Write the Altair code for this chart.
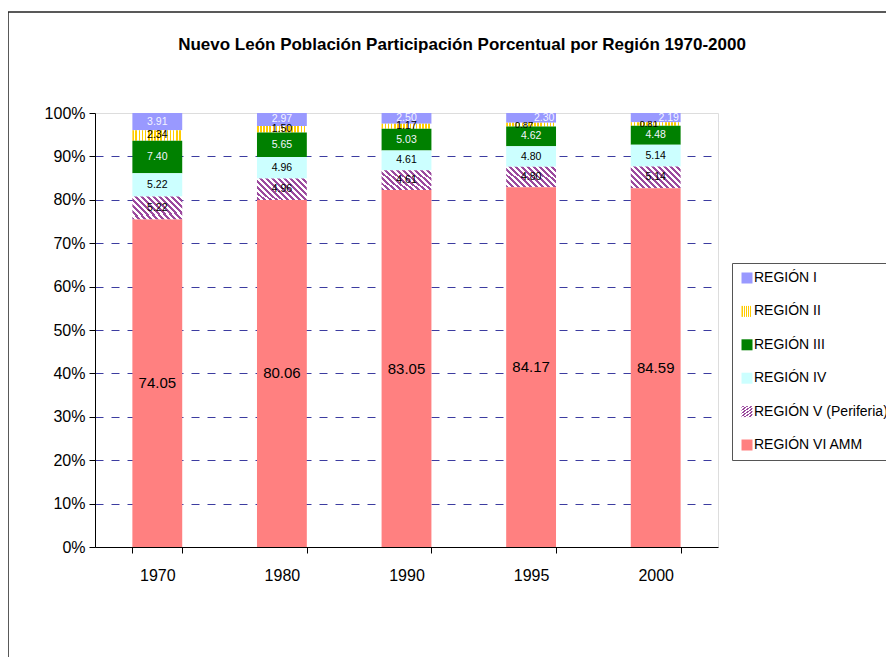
import altair as alt
import pandas as pd

years = ["1970", "1980", "1990", "1995", "2000"]
regions = ["REGIÓN I", "REGIÓN II", "REGIÓN III", "REGIÓN IV",
           "REGIÓN V (Periferia)", "REGIÓN VI AMM"]
region_i = [3.91, 2.97, 2.50, 2.30, 2.19]
region_ii = [2.34, 1.50, 1.17, 0.87, 0.81]
region_iii = [7.40, 5.65, 5.03, 4.62, 4.48]
region_iv = [5.22, 4.96, 4.61, 4.80, 5.14]
region_v = [5.22, 4.96, 4.61, 4.80, 5.14]
region_vi = [74.05, 80.06, 83.05, 84.17, 84.59]
title_text = "Nuevo León Población Participación Porcentual por Región 1970-2000"

series = [region_i, region_ii, region_iii, region_iv, region_v, region_vi]
rows = []
for r_idx, (reg, vals) in enumerate(zip(regions, series)):
    for y, v in zip(years, vals):
        rows.append({"year": y, "region": reg, "value": v,
                     "order": len(regions) - 1 - r_idx})
df = pd.DataFrame(rows)

FONT = "Liberation Sans"


def stripes(c1, c2, n, x1, y1, x2, y2):
    stops = []
    for i in range(n):
        a, b, c = i / n, (i + 0.5) / n, (i + 1) / n
        stops += [(a, c1), (b, c1), (b, c2), (c, c2)]
    s = ",".join("{offset:%.4f,color:'%s'}" % (o, col) for o, col in stops)
    return {"expr": "{gradient:'linear',x1:%s,y1:%s,x2:%s,y2:%s,stops:[%s]}"
            % (x1, y1, x2, y2, s)}


fills = [
    "#9999FF",
    stripes("#FFCC00", "#FFFFFF", 16, 0, 0, 1, 0),
    "#008000",
    "#CCFFFF",
    stripes("#9B4A9E", "#FFFFFF", 12, 0, 1, 1.2064, 0.4692),
    "#FF8080",
]

base = alt.Chart(df).transform_stack(
    stack="value", groupby=["year"], as_=["y0", "y1"],
    sort=[alt.SortField("order", "ascending")], offset="normalize"
).transform_calculate(mid="(datum.y0 + datum.y1) / 2")

x_enc = alt.X("year:N", sort=years,
              scale=alt.Scale(paddingInner=0.6, paddingOuter=0.3),
              axis=alt.Axis(title=None, labelAngle=0, tickBand="extent",
                            labelFont=FONT, labelFontSize=16, labelColor="black",
                            domainColor="black", tickColor="black", tickSize=6,
                            labelPadding=14, grid=False))

bars = base.mark_bar().encode(
    x=x_enc,
    y=alt.Y("y0:Q", scale=alt.Scale(domain=[0, 1], nice=False),
            axis=alt.Axis(title=None, format=".0%",
                          values=[i / 10 for i in range(11)],
                          labelFont=FONT, labelFontSize=16, labelColor="black",
                          domainColor="black", tickColor="black", tickSize=6,
                          labelPadding=4,
                          gridColor="#3C3CA0", gridDash=[8, 8], gridWidth=1,
                          gridOpacity={"condition": {"test": "datum.value >= 1 || datum.value <= 0",
                                                     "value": 0}, "value": 1})),
    y2="y1:Q",
    color=alt.Color("region:N", scale=alt.Scale(domain=regions, range=fills),
                    legend=alt.Legend(title=None, orient="none", legendX=637, legendY=150,
                                      symbolType="square", symbolSize=121,
                                      symbolStrokeWidth=0, labelFont=FONT,
                                      labelFontSize=14, labelColor="black",
                                      labelOffset=0, rowPadding=19.4, padding=8,
                                      strokeColor="#555555", labelLimit=400)),
)


def labels(filter_expr, color, size, dx=0):
    return base.transform_filter(filter_expr).mark_text(
        font=FONT, fontSize=size, color=color, dx=dx, baseline="middle"
    ).encode(
        x=alt.X("year:N", sort=years),
        y=alt.Y("mid:Q"),
        text=alt.Text("value:Q", format=".2f"),
    )


big = labels("datum.region == 'REGIÓN VI AMM'", "black", 15)
white_c = labels("(datum.region == 'REGIÓN I' && datum.year != '1995' && datum.year != '2000') || datum.region == 'REGIÓN III'",
                 "#F4F4FF", 10.5)
white_r = labels("datum.region == 'REGIÓN I' && (datum.year == '1995' || datum.year == '2000')",
                 "#F4F4FF", 10.5, 13)
black_c = labels("datum.region == 'REGIÓN IV' || datum.region == 'REGIÓN V (Periferia)' || (datum.region == 'REGIÓN II' && datum.year != '1995' && datum.year != '2000')",
                 "black", 10.5)
black_l = labels("datum.region == 'REGIÓN II' && (datum.year == '1995' || datum.year == '2000')",
                 "black", 9.5, -7)

frame_df = pd.DataFrame({"t": [title_text]})
frame_top = alt.Chart(frame_df).mark_rule(color="#222222", strokeWidth=1.5).encode(
    x=alt.value(-87), x2=alt.value(820), y=alt.value(-101))
frame_left = alt.Chart(frame_df).mark_rule(color="#222222", strokeWidth=1.5).encode(
    x=alt.value(-87), y=alt.value(-101), y2=alt.value(600))
title = alt.Chart(frame_df).mark_text(
    font=FONT, fontSize=17, fontWeight="bold", color="black",
    align="center", baseline="middle").encode(
    x=alt.value(367), y=alt.value(-68), text="t:N")

chart = alt.layer(bars, big, white_c, white_r, black_c, black_l,
                  frame_top, frame_left, title).properties(
    width=623, height=434,
    autosize=alt.AutoSizeParams(type="none"),
    padding={"left": 87, "top": 105, "right": 168, "bottom": 110},
).configure_view(stroke="#999999", strokeWidth=2).configure(background="white")

chart.save("out.html", embed_options={"renderer": "svg", "actions": False})
